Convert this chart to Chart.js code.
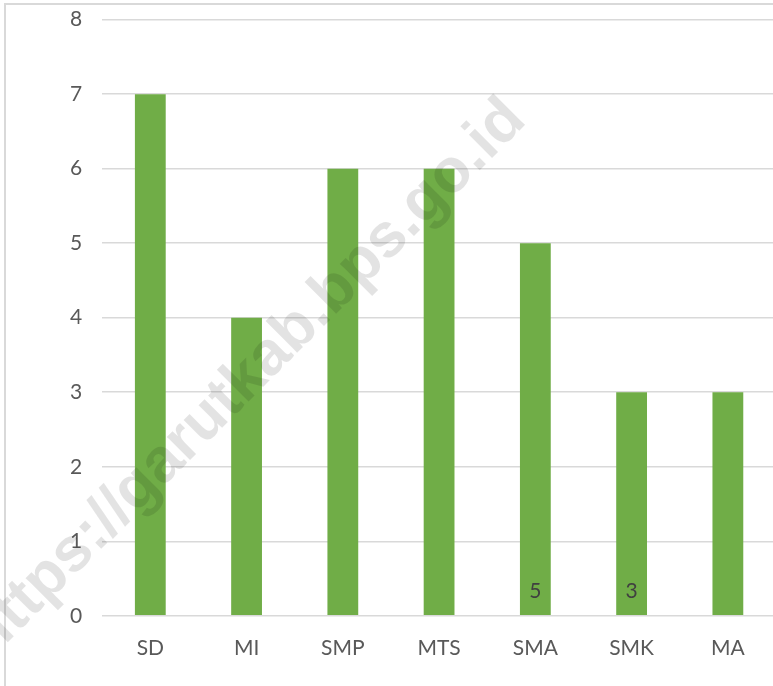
<!DOCTYPE html>
<html lang="en">
<head>
  <meta charset="UTF-8">
  <title>Jumlah Sekolah</title>
  <script src="https://cdn.jsdelivr.net/npm/chart.js@4.4.4/dist/chart.umd.min.js"></script>
  <style>
    html, body { margin: 0; padding: 0; background: #fff; overflow: hidden; }
    #frame {
      position: absolute; left: 4px; top: 3px; width: 900px; height: 800px;
      border-left: 2px solid #d9d9d9; border-top: 2px solid #d9d9d9;
    }
    /* canvas sits a little above the page so the top gridline lands near y=18 */
    #chart { position: absolute; left: 0; top: -13px; }
  </style>
</head>
<body>
  <div id="frame"></div>
  <canvas id="chart" width="780" height="699"></canvas>

  <script>
    const categories = ['SD', 'MI', 'SMP', 'MTS', 'SMA', 'SMK', 'MA'];
    const values = [7, 4, 6, 6, 5, 3, 3];
    // only these bars carry a visible data label in the original
    const shownLabels = [null, null, null, null, 5, 3, null];
    const yTicks = [0, 1, 2, 3, 4, 5, 6, 7, 8];
    const watermark = 'https://garutkab.bps.go.id';

    const fontFamily = "Lato, 'Open Sans', sans-serif";

    const barLabels = {
      id: 'barLabels',
      afterDatasetsDraw(chart) {
        const ctx = chart.ctx;
        const meta = chart.getDatasetMeta(0);
        ctx.save();
        ctx.fillStyle = '#404040';
        ctx.font = '21px ' + fontFamily;
        ctx.textAlign = 'center';
        ctx.textBaseline = 'middle';
        meta.data.forEach((bar, i) => {
          if (shownLabels[i] == null) return;
          ctx.fillText(String(shownLabels[i]), bar.x, bar.base - 24);
        });
        ctx.restore();
      }
    };

    const watermarkPlugin = {
      id: 'watermark',
      afterDraw(chart) {
        const ctx = chart.ctx;
        ctx.save();
        ctx.translate(528, 135);
        ctx.rotate(-Math.PI / 4);
        ctx.font = "bold 62px 'Liberation Sans', Arial, sans-serif";
        ctx.fillStyle = 'rgba(0,0,0,0.11)';
        ctx.textAlign = 'right';
        ctx.textBaseline = 'alphabetic';
        ctx.fillText(watermark, 0, 0);
        ctx.restore();
      }
    };

    new Chart(document.getElementById('chart'), {
      type: 'bar',
      data: {
        labels: categories,
        datasets: [{
          data: values,
          backgroundColor: '#70ad47',
          borderWidth: 0,
          categoryPercentage: 1,
          barPercentage: 0.32
        }]
      },
      plugins: [barLabels, watermarkPlugin],
      options: {
        responsive: false,
        animation: false,
        layout: { padding: { top: 3, left: 50, right: 4, bottom: 13 } },
        plugins: {
          legend: { display: false },
          tooltip: { enabled: false }
        },
        scales: {
          x: {
            grid: { display: false },
            border: { display: false },
            ticks: {
              color: '#595959',
              font: { family: fontFamily, size: 21 },
              padding: 12
            }
          },
          y: {
            min: 0,
            max: 8,
            afterBuildTicks(axis) {
              axis.ticks = yTicks.map(v => ({ value: v }));
            },
            grid: { color: '#d9d9d9', lineWidth: 1.5, drawTicks: false },
            border: { display: false },
            ticks: {
              color: '#595959',
              font: { family: fontFamily, size: 21 },
              padding: 20
            }
          }
        }
      }
    });
  </script>
</body>
</html>
